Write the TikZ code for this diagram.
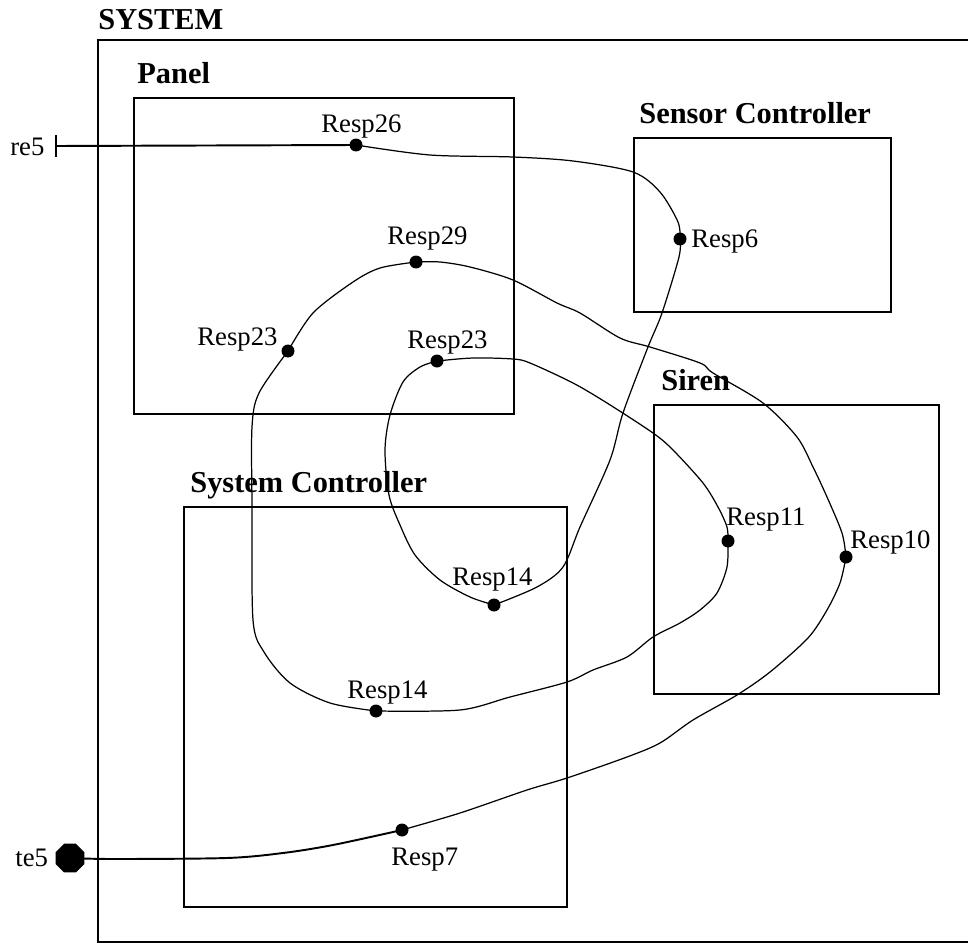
\documentclass[tikz,border=0pt]{standalone}
\usepackage{fontspec}
\setmainfont{Liberation Serif}
\usetikzlibrary{fit,shapes.geometric}
\tikzset{
  box/.style={draw, line width=1.1pt, inner sep=0pt},
  title/.style={font=\bfseries\fontsize{17.3}{20}\selectfont, anchor=base west, inner sep=0pt},
  lbl/.style={font=\fontsize{15.2}{18}\selectfont, anchor=base west, inner sep=0pt},
  dot/.style={circle, fill, inner sep=0pt, minimum size=0.26cm},
  wire/.style={line width=0.7pt},
  port/.style={line width=1.1pt},
}
\begin{document}
\begin{tikzpicture}[x=0.02cm, y=-0.02cm]
\useasboundingbox (0,0) rectangle (968,943);
% boxes
\draw[box] (968,40) -- (98,40) -- (98,942) -- (968,942);
\node[box, fit={(134,98) (514,414)}] (panel) {};
\node[box, fit={(634,138) (891,312)}] (sensor) {};
\node[box, fit={(654,405) (939,694)}] (siren) {};
\node[box, fit={(184,507) (567,907)}] (sysctl) {};
% titles
\node[title] (tSystem) at (98,30) {SYSTEM};
\node[title] (tPanel) at (137,83) {Panel};
\node[title] (tSensor) at (639,123) {Sensor Controller};
\node[title] (tSiren) at (661,390) {Siren};
\node[title] (tSysctl) at (190,492) {System Controller};
% points
\coordinate (p26) at (356,145);
\coordinate (p6) at (680,239);
\coordinate (p29) at (416,262);
\coordinate (p23a) at (288,351);
\coordinate (p23b) at (437,361);
\coordinate (p14a) at (494,605);
\coordinate (p11) at (728,541);
\coordinate (p10) at (846,557);
\coordinate (p14b) at (376,711);
\coordinate (p7) at (402,830);
\coordinate (re5) at (56,146);
\coordinate (te5) at (70,858);
% connectors
\draw[port] (re5) -- (p26);
\draw[port] (56,135) -- (56,157);
\draw[wire] plot[smooth, tension=0.5] coordinates {(p26) (430,155) (513,157) (573,161) (633,172) (660,192) (678,222) (p6)};
\draw[wire] plot[smooth, tension=0.5] coordinates {(p6) (679,257) (662,313) (648,347) (623,413) (610,460) (580,527) (563,567) (537,587) (p14a)};
\draw[wire] plot[smooth, tension=0.5] coordinates {(p14a) (470,597) (440,580) (415,555) (400,525) (389,495) (385,450) (390,415) (403,382) (420,367) (p23b)};
\draw[wire] plot[smooth, tension=0.5] coordinates {(p23b) (473,358) (513,359) (530,363) (573,383) (607,403) (653,433) (673,450) (703,483) (718,507) (727,527) (p11)};
\draw[wire] plot[smooth, tension=0.5] coordinates {(p11) (727,567) (717,593) (700,610) (680,623) (653,637) (627,657) (593,670) (567,682) (510,697) (460,710) (p14b)};
\draw[wire] plot[smooth, tension=0.5] coordinates {(p14b) (330,703) (290,683) (264,652) (253,620) (252,507) (252,427) (259,393) (p23a)};
\draw[wire] plot[smooth, tension=0.5] coordinates {(p23a) (313,313) (353,282) (380,268) (p29)};
\draw[wire] plot[smooth, tension=0.5] coordinates {(p29) (440,262) (470,267) (513,280) (557,303) (580,313) (620,338) (650,347) (700,363) (713,373) (763,403) (797,437) (813,467) (827,497) (842,533) (p10)};
\draw[wire] plot[smooth, tension=0.5] coordinates {(p10) (840,583) (827,610) (808,638) (770,672) (737,695) (693,720) (660,743) (627,757) (567,778) (527,790) (460,813) (p7)};
\draw[port] plot[smooth, tension=0.5] coordinates {(p7) (333,845) (283,853) (227,858) (113,859) (te5)};
% dots
\foreach \p in {p26,p6,p29,p23a,p23b,p14a,p11,p10,p14b,p7}
  \node[dot] (d\p) at (\p) {};
\node[regular polygon, regular polygon sides=8, fill, inner sep=0pt, minimum size=0.62cm] (te5oct) at (te5) {};
% labels
\node[lbl] (lre5) at (10,155) {re5};
\node[lbl] (lte5) at (15,866) {te5};
\node[lbl] (l26) at (321,132) {Resp26};
\node[lbl] (l6) at (691,247) {Resp6};
\node[lbl] (l29) at (387,244) {Resp29};
\node[lbl] (l23a) at (197,345) {Resp23};
\node[lbl] (l23b) at (407,348) {Resp23};
\node[lbl] (l14a) at (452,585) {Resp14};
\node[lbl] (l11) at (726,525) {Resp11};
\node[lbl] (l10) at (850,548) {Resp10};
\node[lbl] (l14b) at (347,698) {Resp14};
\node[lbl] (l7) at (391,865) {Resp7};
\end{tikzpicture}
\end{document}
